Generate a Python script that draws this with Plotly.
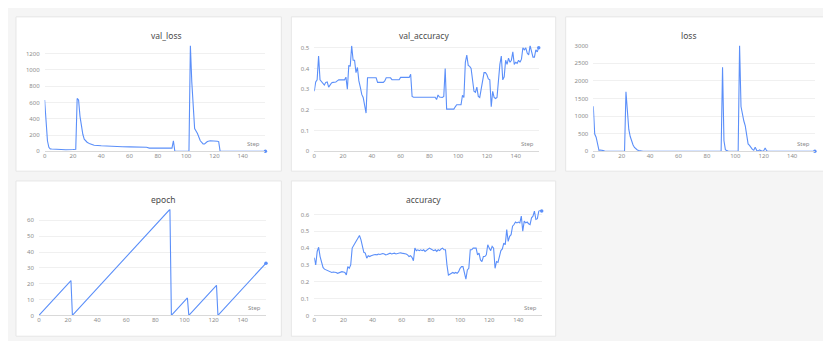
import plotly.graph_objects as go

# val_loss (passo, valor)
val_loss_step = [0, 1, 2, 3, 4, 5, 10, 15, 20, 22, 23, 24, 25, 26, 27, 28, 29, 30, 32, 35,
                 40, 45, 50, 55, 60, 65, 70, 72, 74, 80, 82, 89, 90, 91, 92, 102, 103, 104,
                 105, 106, 107, 108, 110, 112, 113, 115, 117, 120, 122, 123, 124, 156]
val_loss = [630, 390, 130, 50, 30, 28, 22, 20, 22, 25, 650, 630, 430, 310, 210, 150, 130, 112, 92, 75,
            68, 62, 60, 57, 55, 55, 55, 50, 40, 40, 45, 45, 40, 130, 2, 2, 1300, 850,
            500, 280, 250, 220, 130, 92, 90, 120, 130, 130, 125, 120, 2, 2]

# val_accuracy, um valor por passo (0..156)
val_accuracy = [
    0.29, 0.335, 0.345, 0.46, 0.345, 0.335, 0.327, 0.32, 0.333, 0.335,
    0.31, 0.322, 0.33, 0.333, 0.333, 0.335, 0.34, 0.345, 0.345, 0.345,
    0.345, 0.345, 0.358, 0.30, 0.415, 0.41, 0.51, 0.44, 0.44, 0.38,
    0.405, 0.34, 0.31, 0.275, 0.26, 0.225, 0.185, 0.355, 0.355, 0.355,
    0.355, 0.355, 0.355, 0.355, 0.333, 0.333, 0.333, 0.333, 0.333, 0.34,
    0.355, 0.355, 0.355, 0.355, 0.346, 0.346, 0.346, 0.346, 0.346, 0.346,
    0.357, 0.357, 0.357, 0.357, 0.357, 0.357, 0.357, 0.372, 0.265, 0.261,
    0.261, 0.261, 0.261, 0.261, 0.261, 0.261, 0.261, 0.261, 0.261, 0.261,
    0.261, 0.261, 0.261, 0.261, 0.261, 0.25, 0.272, 0.262, 0.26, 0.26,
    0.265, 0.40, 0.204, 0.204, 0.204, 0.204, 0.204, 0.204, 0.215, 0.225,
    0.225, 0.225, 0.225, 0.27, 0.26, 0.43, 0.465, 0.415, 0.41, 0.40,
    0.34, 0.29, 0.285, 0.31, 0.265, 0.26, 0.30, 0.35, 0.38, 0.38,
    0.37, 0.35, 0.345, 0.215, 0.29, 0.26, 0.255, 0.26, 0.35, 0.42,
    0.46, 0.345, 0.36, 0.44, 0.42, 0.45, 0.43, 0.44, 0.48, 0.42,
    0.43, 0.425, 0.44, 0.43, 0.445, 0.50, 0.49, 0.50, 0.475, 0.465,
    0.51, 0.48, 0.455, 0.455, 0.49, 0.48, 0.50,
]

# loss (passo, valor)
loss_step = [0, 1, 2, 3, 4, 5, 6, 7, 8, 21, 22, 23, 24, 25, 26, 27, 28, 29, 30, 31, 32, 33, 34, 35,
             90, 91, 92, 93, 94, 95, 102, 103, 104, 105, 106, 107, 108, 109, 110, 111, 112, 113,
             114, 115, 116, 117, 118, 119, 120, 121, 122, 123, 156]
loss = [1280, 490, 400, 150, 30, 40, 40, 20, 8, 5, 5, 1690, 1050, 620, 420, 270, 180, 110, 70, 40, 25, 15, 10, 5,
        5, 2380, 300, 50, 20, 10, 5, 3000, 1270, 1000, 860, 720, 490, 210, 170, 90, 55, 30,
        120, 30, 5, 40, 20, 5, 20, 95, 20, 5, 5]

# epoch (vertices)
epoch_step = [0, 22, 23, 90, 91, 102, 103, 122, 123, 156]
epoch = [0, 22, 0, 67, 0, 11, 0, 19, 0, 33]

# accuracy, um valor por passo (0..156)
accuracy = [
    0.343, 0.30, 0.38, 0.405, 0.35, 0.31, 0.285, 0.275, 0.27, 0.265,
    0.26, 0.258, 0.255, 0.258, 0.258, 0.255, 0.25, 0.255, 0.258, 0.26,
    0.258, 0.255, 0.24, 0.29, 0.28, 0.30, 0.40, 0.42, 0.43, 0.445,
    0.46, 0.475, 0.45, 0.40, 0.375, 0.37, 0.34, 0.355, 0.35, 0.355,
    0.36, 0.36, 0.362, 0.36, 0.365, 0.362, 0.365, 0.368, 0.365, 0.36,
    0.362, 0.365, 0.37, 0.365, 0.368, 0.37, 0.365, 0.368, 0.37, 0.372,
    0.37, 0.368, 0.37, 0.365, 0.36, 0.35, 0.355, 0.345, 0.325, 0.40,
    0.385, 0.39, 0.385, 0.39, 0.385, 0.39, 0.38, 0.385, 0.39, 0.40,
    0.395, 0.39, 0.385, 0.39, 0.38, 0.39, 0.385, 0.395, 0.40, 0.39,
    0.39, 0.30, 0.24, 0.245, 0.25, 0.255, 0.25, 0.255, 0.25, 0.26,
    0.28, 0.29, 0.29, 0.25, 0.215, 0.27, 0.28, 0.39, 0.39, 0.40,
    0.40, 0.40, 0.36, 0.37, 0.33, 0.32, 0.35, 0.35, 0.36, 0.42,
    0.40, 0.385, 0.41, 0.40, 0.28, 0.32, 0.315, 0.36, 0.385, 0.395,
    0.43, 0.42, 0.51, 0.44, 0.47, 0.48, 0.53, 0.54, 0.555, 0.55,
    0.555, 0.55, 0.59, 0.50, 0.56, 0.55, 0.555, 0.545, 0.54, 0.58,
    0.59, 0.62, 0.57, 0.575, 0.62, 0.625, 0.62,
]

x_ticks = [0, 20, 40, 60, 80, 100, 120, 140]

W, H = 831, 341
LINE = '#5b8ff9'
FONT = 'Noto Sans'


def px(x0, x1):
    return [x0 / W, x1 / W]


def py(top, bottom):
    return [1 - bottom / H, 1 - top / H]


# titulo, x, y, faixa y, dtick, cartao (x0, y0, x1, y1), area do grafico (x0, top, x1, bottom)
paineis = [
    ('val_loss', val_loss_step, val_loss, [0, 1300], 200, (6, 5, 272, 163), (34.7, 34.3, 256, 142.7)),
    ('val_accuracy', list(range(len(val_accuracy))), val_accuracy, [0, 0.511], 0.1,
     (282, 5, 547, 163), (305, 34.3, 530, 142.7)),
    ('loss', loss_step, loss, [0, 3000], 500, (557, 5, 822, 163), (584.7, 34.3, 806.8, 142.7)),
    ('epoch', epoch_step, epoch, [0, 67], 10, (6, 173, 272, 332), (29, 202, 256.6, 310.7)),
    ('accuracy', list(range(len(accuracy))), accuracy, [0, 0.625], 0.1,
     (282, 173, 547, 332), (305, 203, 533, 310.7)),
]

fig = go.Figure()
shapes = []
annotations = []
layout = {}

for i, (titulo, xs, ys, yr, dtick, card, area) in enumerate(paineis, start=1):
    sfx = '' if i == 1 else str(i)
    fig.add_trace(go.Scatter(
        x=xs, y=ys, mode='lines', line=dict(color=LINE, width=1.1),
        xaxis='x' + sfx, yaxis='y' + sfx, showlegend=False, cliponaxis=False,
        hoverinfo='x+y',
    ))
    # ponto final
    fig.add_trace(go.Scatter(
        x=[xs[-1]], y=[ys[-1]], mode='markers', marker=dict(color=LINE, size=3.5),
        xaxis='x' + sfx, yaxis='y' + sfx, showlegend=False, cliponaxis=False,
    ))

    layout['xaxis' + sfx] = dict(
        domain=px(area[0], area[2]), anchor='y' + sfx, range=[0, 156],
        tickvals=x_ticks, showgrid=False, zeroline=False, showline=True,
        linecolor='#d9d9d9', linewidth=1, ticks='', fixedrange=True,
        ticklabelstandoff=-2,
        tickfont=dict(size=6, color='#8c8c8c', family=FONT),
    )
    layout['yaxis' + sfx] = dict(
        domain=py(area[1], area[3]), anchor='x' + sfx, range=yr, dtick=dtick, tick0=0,
        showgrid=True, gridcolor='#f0f0f0', gridwidth=1, zeroline=False, showline=False,
        ticks='', fixedrange=True, ticklabelstandoff=4,
        tickfont=dict(size=6, color='#8c8c8c', family=FONT),
    )

    shapes.append(dict(
        type='rect', xref='paper', yref='paper', layer='below',
        x0=card[0] / W, x1=card[2] / W, y0=1 - card[3] / H, y1=1 - card[1] / H,
        fillcolor='white', line=dict(color='#e6e6e6', width=1),
    ))
    annotations.append(dict(
        text=titulo, xref='paper', yref='paper', showarrow=False,
        x=(card[0] + card[2]) / 2 / W, y=1 - (card[1] + 19) / H, yanchor='middle',
        font=dict(size=8.5, color='#4a4a4a', family=FONT),
    ))
    annotations.append(dict(
        text='Step', xref='x' + sfx, yref='y' + sfx, showarrow=False,
        x=156, y=0, xanchor='right', yanchor='bottom', xshift=-3, yshift=1,
        font=dict(size=6, color='#8c8c8c', family=FONT),
    ))

fig.update_layout(
    width=W, height=H, margin=dict(l=0, r=0, t=0, b=0),
    paper_bgcolor='#f5f5f5', plot_bgcolor='white',
    shapes=shapes, annotations=annotations, **layout,
)

fig.write_html('out.html')
